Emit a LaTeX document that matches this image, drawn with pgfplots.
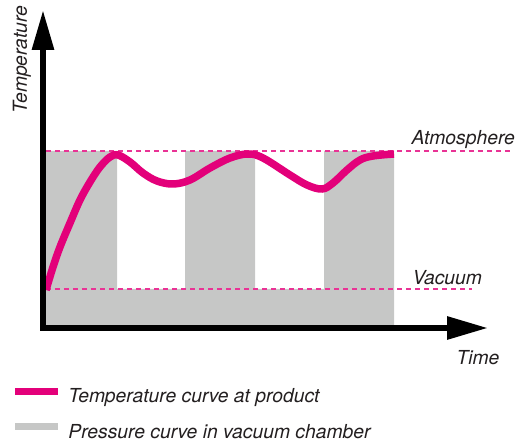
\documentclass[border=0pt]{standalone}
\usepackage{fontspec}
\setmainfont{TeX Gyre Heros}
\usepackage{pgfplots}
\pgfplotsset{compat=1.18}
\usetikzlibrary{arrows.meta}
\definecolor{magentac}{HTML}{E3007A}
\definecolor{grayc}{HTML}{C6C7C6}
\definecolor{textc}{HTML}{231F20}
\newcommand\lblfont{\itshape\fontsize{19.3}{23}\selectfont}
\begin{document}
\begin{tikzpicture}
\begin{axis}[
    width=445pt, height=318pt, scale only axis,
    xmin=0, xmax=445, ymin=0, ymax=318,
    axis lines=left,
    axis line style={line width=6pt, line cap=rect},
    x axis line style={-{Triangle[length=41pt,width=22pt]}},
    y axis line style={-{Triangle[length=40pt,width=21pt]}},
    xtick=\empty, ytick=\empty,
    axis on top, clip=false,
    legend cell align=left,
    legend style={draw=none, fill=none, at={(-0.0629,-0.1877)}, anchor=north west,
        inner sep=0pt, outer sep=0pt, row sep=16pt, column sep=11pt,
        font=\lblfont, text=textc,
        nodes={inner sep=0pt, text height=14pt, text depth=4pt}},
    ]
    % pressure in the chamber (gray area)
    \addplot[fill=grayc, draw=none, const plot, forget plot] coordinates {
        (0,177) (74,39) (142,177) (212,39) (281,177) (351,177)
    } \closedcycle;
    % atmosphere and vacuum levels
    \addplot[magentac!80!white, line width=1.5pt, dash pattern=on 5pt off 4pt, forget plot]
        coordinates {(3,177) (469,177)};
    \addplot[magentac!80!white, line width=1.5pt, dash pattern=on 5pt off 4pt, forget plot]
        coordinates {(3,39) (429,39)};
    % temperature at product
    \addplot[magentac, line width=7.5pt, smooth, tension=0.6, forget plot] coordinates {
        (3,38) (10,61) (17,81) (27,105) (37,128) (47,146) (57,161) (67,171) (75,173)
        (87,166) (100,155) (114,147) (130,144) (147,148) (167,160) (187,170)
        (205,174) (220,170) (247,153) (264,143) (279,139) (290,145) (304,158)
        (317,168) (330,172) (351,174)
    };
    \addlegendimage{legend image code/.code={\fill[magentac] (0pt,4pt) rectangle (42pt,10pt);}}
    \addlegendimage{legend image code/.code={\fill[grayc] (0pt,4pt) rectangle (42pt,10pt);}}
    \legend{Temperature curve at product, Pressure curve in vacuum chamber}

    \node[anchor=base west, font=\lblfont, text=textc] at (axis cs:365,183) {Atmosphere};
    \node[anchor=base west, font=\lblfont, text=textc] at (axis cs:366,43) {Vacuum};
    \node[anchor=base west, font=\lblfont, text=textc] at (axis cs:410,-37) {Time};
    \node[rotate=90, anchor=base west, font=\lblfont, text=textc] at (axis cs:-16,211) {Temperature};

    \coordinate (bbsw) at (axis cs:-43,-115);
    \coordinate (bbne) at (axis cs:474,328);
\end{axis}
\pgfresetboundingbox
\path[use as bounding box] (bbsw) rectangle (bbne);
\end{tikzpicture}
\end{document}
